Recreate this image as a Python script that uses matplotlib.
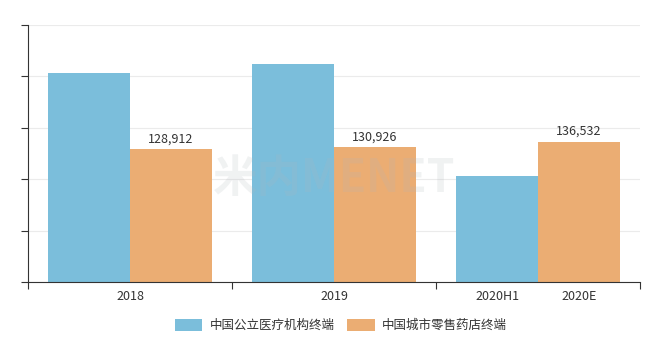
import matplotlib.pyplot as plt
import numpy as np

plt.rcParams["font.family"] = ["Noto Sans CJK SC", "DejaVu Sans"]

groups = ["2018", "2019", "2020"]
period_labels = [["2018"], ["2019"], ["2020H1", "2020E"]]
series_names = ["中国公立医疗机构终端", "中国城市零售药店终端"]
public_hospital = [203000, 212000, 103000]
retail_pharmacy = [128912, 130926, 136532]
colors = ["#7bbedb", "#ebad73"]

fig = plt.figure(figsize=(6.58, 3.52), dpi=100)
ax = fig.add_axes([0.0426, 0.199, 0.93, 0.73])

x = np.arange(len(groups))
w = 0.4
ax.bar(x - w / 2, public_hospital, w, color=colors[0], label=series_names[0], zorder=2)
bars = ax.bar(x + w / 2, retail_pharmacy, w, color=colors[1], label=series_names[1], zorder=2)

for b, v in zip(bars, retail_pharmacy):
    ax.text(b.get_x() + b.get_width() / 2, v + 4000, f"{v:,}",
            ha="center", va="bottom", fontsize=9, color="#333333", zorder=3)

# watermark (kept just below the value labels)
ax.text(1.0, 100000, "米内MENET", ha="center", va="center", fontsize=32,
        fontweight="bold", color="#b0b8bc", alpha=0.18, zorder=4)

ax.set_xlim(-0.5, len(groups) - 0.5)
ax.set_ylim(0, 250000)
ax.set_yticks(np.arange(0, 250001, 50000))
ax.set_yticklabels([])
ax.grid(axis="y", color="#ebebeb", linewidth=0.8, zorder=0)

# category boundaries as tick marks, labels placed under bars
ax.set_xticks(np.arange(-0.5, len(groups), 1.0))
ax.set_xticklabels([])
label_pos = []
label_txt = []
for i, labs in enumerate(period_labels):
    if len(labs) == 1:
        label_pos.append(x[i])
        label_txt.append(labs[0])
    else:
        label_pos += [x[i] - w / 2, x[i] + w / 2]
        label_txt += labs
ax.set_xticks(label_pos, minor=True)
ax.set_xticklabels(label_txt, minor=True, fontsize=9, color="#333333")
ax.tick_params(axis="x", which="minor", length=0, pad=6)
ax.tick_params(axis="x", which="major", length=5, color="#333333")
ax.tick_params(axis="y", length=5, color="#333333")

for s in ["top", "right"]:
    ax.spines[s].set_visible(False)
for s in ["left", "bottom"]:
    ax.spines[s].set_color("#333333")

fig.legend(loc="lower center", bbox_to_anchor=(0.518, 0.025), ncol=2, frameon=False,
           fontsize=9, handlelength=2.2, handleheight=1.1, handletextpad=0.6,
           columnspacing=1.0, labelcolor="#333333")

fig.savefig("out.png", dpi=100)
